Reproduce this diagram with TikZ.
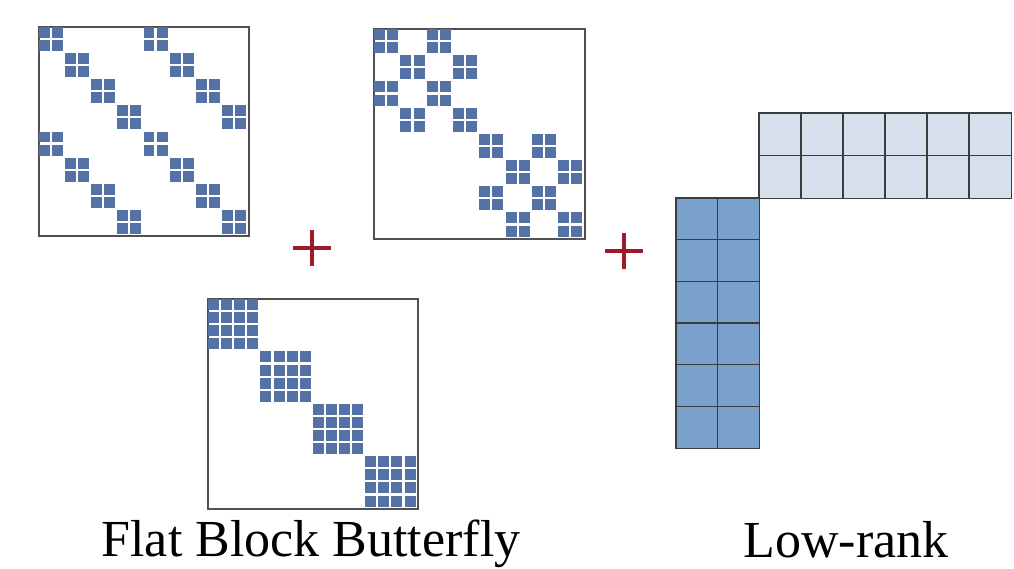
\documentclass[tikz,border=0pt]{standalone}
\usepackage{fontspec}
\setmainfont{Liberation Serif}
\usetikzlibrary{calc}
\definecolor{blk}{RGB}{84,114,166}
\definecolor{frame}{RGB}{80,80,80}
\definecolor{lightc}{RGB}{214,224,237}
\definecolor{darkc}{RGB}{122,160,204}
\definecolor{gridc}{RGB}{60,60,60}
\definecolor{plusc}{RGB}{155,27,42}
\tikzset{
  matbox/.style={draw=frame, line width=1.5pt, fill=none, inner sep=0pt, minimum width=210pt, minimum height=209pt, anchor=north west},
  sq/.style={fill=blk},
  plusline/.style={draw=plusc, line width=4.5pt},
  lab/.style={font=\fontsize{52}{60}\selectfont, anchor=base, inner sep=0pt},
  gridline/.style={draw=gridc, line width=1.1pt}
}
\begin{document}
\begin{tikzpicture}[x=1pt,y=-1pt]
\useasboundingbox[fill=white] (0,0) rectangle (1014,568);

% Matrix 1
\node[matbox] (m1) at (38,26) {};
\begin{scope}[shift={(38,26)}, x=13.06pt, y=-13.06pt]
  \foreach \i in {0,...,7}{
    \pgfmathtruncatemacro\ja{mod(\i,4)}
    \pgfmathtruncatemacro\jb{\ja+4}
    \foreach \j in {\ja,\jb}{
      \foreach \a in {0,1}{\foreach \b in {0,1}{
        \fill[sq] (2*\j+\b+0.08, 2*\i+\a+0.08) rectangle (2*\j+\b+0.92, 2*\i+\a+0.92);
      }}
    }
  }
\end{scope}

% Matrix 2
\node[matbox, minimum width=211pt, minimum height=210pt] (m2) at (373,28) {};
\begin{scope}[shift={(373,28)}, x=13.15pt, y=-13.1pt]
  \foreach \i in {0,...,7}{
    \pgfmathtruncatemacro\ja{4*floor(\i/4)+mod(\i,2)}
    \pgfmathtruncatemacro\jb{\ja+2}
    \foreach \j in {\ja,\jb}{
      \foreach \a in {0,1}{\foreach \b in {0,1}{
        \fill[sq] (2*\j+\b+0.08, 2*\i+\a+0.08) rectangle (2*\j+\b+0.92, 2*\i+\a+0.92);
      }}
    }
  }
\end{scope}

% Matrix 3
\node[matbox, minimum width=210pt, minimum height=210pt] (m3) at (207,298) {};
\begin{scope}[shift={(207,298)}, x=13.1pt, y=-13.1pt]
  \foreach \k in {0,...,3}{
    \foreach \a in {0,...,3}{\foreach \b in {0,...,3}{
      \fill[sq] (4*\k+\b+0.08, 4*\k+\a+0.08) rectangle (4*\k+\b+0.92, 4*\k+\a+0.92);
    }}
  }
\end{scope}

% Plus signs
\node[inner sep=0pt, minimum width=37pt, minimum height=36pt] (p1) at (312,248) {};
\draw[plusline] (p1.west) -- (p1.east);
\draw[plusline] (p1.north) -- (p1.south);
\node[inner sep=0pt, minimum width=38pt, minimum height=35pt] (p2) at (624,251) {};
\draw[plusline] (p2.west) -- (p2.east);
\draw[plusline] (p2.north) -- (p2.south);

% Low-rank: horizontal factor
\node[fill=lightc, inner sep=0pt, minimum width=252pt, minimum height=85pt, anchor=north west] (h) at (759,113) {};
\foreach \c in {1,...,5}{
  \draw[gridline] ($(h.north west)+(\c*42,0)$) -- ($(h.south west)+(\c*42,0)$);
}
\draw[gridline] (h.west) -- (h.east);
\draw[gridline] (h.north west) rectangle (h.south east);

% Low-rank: vertical factor
\node[fill=darkc, inner sep=0pt, minimum width=83pt, minimum height=250pt, anchor=north west] (v) at (676,198) {};
\foreach \r in {1,...,5}{
  \draw[gridline] ($(v.north west)+(0,\r*41.67)$) -- ($(v.north east)+(0,\r*41.67)$);
}
\draw[gridline] (v.north) -- (v.south);
\draw[gridline] (v.north west) rectangle (v.south east);

% Labels
\node[lab] (t1) at (311,556) {Flat Block Butterfly};
\node[lab] (t2) at (846,557) {Low-rank};
\end{tikzpicture}
\end{document}
